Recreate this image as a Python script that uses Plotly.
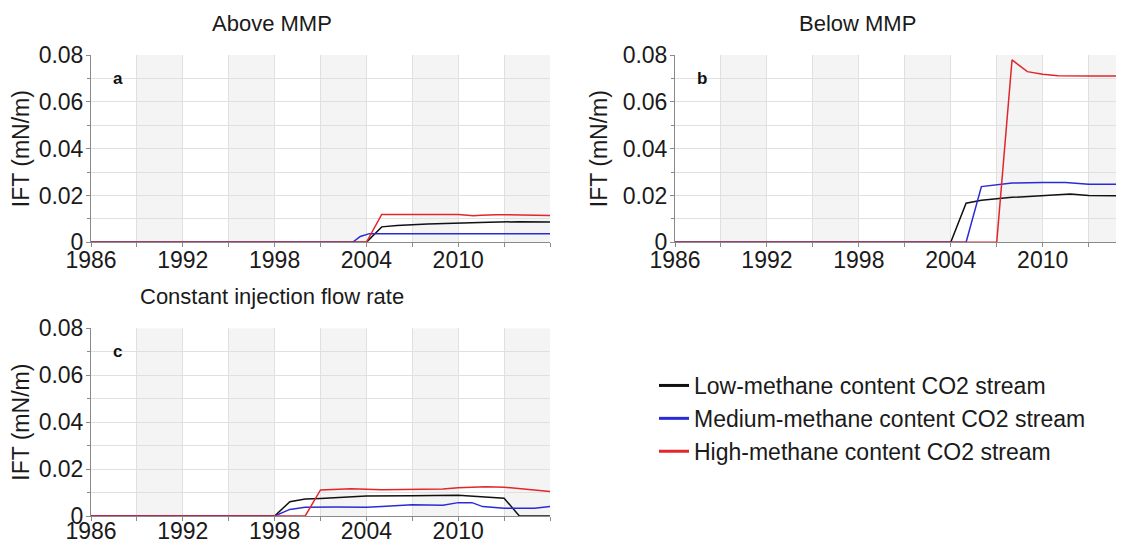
import plotly.graph_objects as go

# page has an 8px body margin, so the figure is sized to fit the window exactly
OFF = 8
W, H = 1124 - OFF, 543 - OFF

# ---------------- data ----------------
a_low_x = [1986, 2004.0, 2005.0, 2006, 2008, 2010, 2012, 2014, 2016]
a_low_y = [0, 0, 0.0066, 0.0072, 0.0078, 0.0083, 0.0086, 0.0088, 0.0087]
a_med_x = [1986, 2003.1, 2003.6, 2004.2, 2007, 2010, 2011, 2013, 2014, 2016]
a_med_y = [0, 0, 0.0025, 0.0037, 0.0037, 0.0037, 0.0038, 0.0040, 0.0037, 0.0036]
a_high_x = [1986, 2004.0, 2005.0, 2008, 2010, 2011, 2011.5, 2012.5, 2014, 2016]
a_high_y = [0, 0, 0.0119, 0.0119, 0.0119, 0.0113, 0.0116, 0.0118, 0.0118, 0.0115]

b_low_x = [1986, 2004.0, 2005.0, 2006, 2008, 2010, 2011.8, 2013, 2015.4]
b_low_y = [0, 0, 0.0167, 0.0180, 0.0192, 0.0200, 0.0206, 0.0200, 0.0199]
b_med_x = [1986, 2005.0, 2006.0, 2007, 2008, 2010, 2011.5, 2013, 2015.4]
b_med_y = [0, 0, 0.0238, 0.0245, 0.0253, 0.0255, 0.0255, 0.0248, 0.0248]
b_high_x = [1986, 2007.0, 2008.0, 2009, 2010, 2011, 2013, 2015.4]
b_high_y = [0, 0, 0.0779, 0.0729, 0.0718, 0.0711, 0.0710, 0.0710]

c_low_x = [1986, 1998, 1999, 2000, 2001, 2004, 2007, 2010, 2011, 2013, 2014, 2016]
c_low_y = [0, 0, 0.0061, 0.0072, 0.0075, 0.0085, 0.0086, 0.0088, 0.0084, 0.0076, 0, 0]
c_med_x = [1986, 1998, 1999, 2000, 2002, 2004, 2005, 2007, 2009, 2010, 2010.9, 2011.6, 2013, 2015, 2016]
c_med_y = [0, 0, 0.0028, 0.0037, 0.0038, 0.0037, 0.0040, 0.0048, 0.0046, 0.0057, 0.0057, 0.0040, 0.0033, 0.0033, 0.0040]
c_high_x = [1986, 2000, 2001, 2002, 2003, 2005, 2007, 2009, 2010, 2011.8, 2013, 2014, 2015, 2016]
c_high_y = [0, 0, 0.0111, 0.0114, 0.0116, 0.0112, 0.0112, 0.0115, 0.0120, 0.0125, 0.0123, 0.0116, 0.0110, 0.0104]

series_names = ["Low-methane content CO2 stream",
                "Medium-methane content CO2 stream",
                "High-methane content CO2 stream"]
series_colors = ["#111111", "#2b2bd6", "#e2262c"]

panel_titles = ["Above MMP", "Below MMP", "Constant injection flow rate"]
panel_letters = ["a", "b", "c"]

x_tickvals = [1986, 1992, 1998, 2004, 2010]
x_ticktext = ["1986", "1992", "1998", "2004", "2010"]
y_tickvals = [0, 0.02, 0.04, 0.06, 0.08]
y_ticktext = ["0", "0.02", "0.04", "0.06", "0.08"]
band_starts = [1989, 1995, 2001, 2007, 2013]

panels = [
    [(a_low_x, a_low_y), (a_med_x, a_med_y), (a_high_x, a_high_y)],
    [(b_low_x, b_low_y), (b_med_x, b_med_y), (b_high_x, b_high_y)],
    [(c_low_x, c_low_y), (c_med_x, c_med_y), (c_high_x, c_high_y)],
]

# ---------------- layout geometry (reference-page pixels) ----------------
px = lambda v: (v - OFF) / W
py = lambda v: 1 - (v - OFF) / H
geo = [
    dict(x0=91, x1=550, y0=55, y1=242.3, xr=[1986, 2016], xstand=-7),
    dict(x0=675, x1=1124, y0=55, y1=242.3, xr=[1986, 1986 + (1124 - 675) / 15.32], xstand=-7),
    dict(x0=91, x1=550, y0=328.4, y1=516, xr=[1986, 2016], xstand=-10),
]

FONT = "Arial, Liberation Sans, sans-serif"
fig = go.Figure()

for i, panel in enumerate(panels):
    sfx = "" if i == 0 else str(i + 1)
    for j, (xs, ys) in enumerate(panel):
        fig.add_trace(go.Scatter(x=xs, y=ys, mode="lines",
                                 line=dict(color=series_colors[j], width=1.5),
                                 showlegend=False, hoverinfo="skip",
                                 xaxis="x" + sfx, yaxis="y" + sfx))

# legend-only entries with thicker line samples
for j in range(3):
    fig.add_trace(go.Scatter(x=[None], y=[None], mode="lines", name=series_names[j],
                             line=dict(color=series_colors[j], width=3),
                             xaxis="x", yaxis="y"))

axis_common = dict(showline=True, linecolor="#8a8a8a", linewidth=1,
                   gridcolor="#e0e0e0", gridwidth=1, zeroline=False,
                   ticks="outside", ticklen=4, tickcolor="#8a8a8a",
                   tickfont=dict(family=FONT, size=23, color="#1a1a1a"),
                   automargin=False, fixedrange=True)

layout = dict(width=W, height=H, margin=dict(l=0, r=0, t=0, b=0),
              paper_bgcolor="white", plot_bgcolor="white",
              font=dict(family=FONT, color="#1a1a1a"),
              showlegend=True,
              legend=dict(x=px(654), y=py(364), xanchor="left", yanchor="top",
                          font=dict(family=FONT, size=23, color="#1a1a1a"),
                          bgcolor="rgba(0,0,0,0)", itemwidth=30,
                          tracegroupgap=0),
              shapes=[], annotations=[])

for i, g in enumerate(geo):
    sfx = "" if i == 0 else str(i + 1)
    layout["xaxis" + sfx] = dict(axis_common, domain=[px(g["x0"]), min(1, px(g["x1"]))],
                                 range=g["xr"], tickvals=x_tickvals, ticktext=x_ticktext,
                                 anchor="y" + sfx, showgrid=True, ticklabelstandoff=g["xstand"],
                                 minor=dict(dtick=3, tick0=1986, showgrid=True,
                                            gridcolor="#e0e0e0", ticks="outside",
                                            ticklen=4, tickcolor="#8a8a8a"))
    layout["yaxis" + sfx] = dict(axis_common, domain=[py(g["y1"]), py(g["y0"])],
                                 range=[0, 0.08], tickvals=y_tickvals, ticktext=y_ticktext,
                                 anchor="x" + sfx, showgrid=True, ticklabelstandoff=-2,
                                 title=dict(text="IFT (mN/m)", standoff=8,
                                            font=dict(family=FONT, size=23, color="#1a1a1a")),
                                 minor=dict(dtick=0.01, showgrid=True, gridcolor="#e0e0e0",
                                            ticks="outside", ticklen=3, tickcolor="#8a8a8a"))
    for b in band_starts:
        layout["shapes"].append(dict(type="rect", xref="x" + sfx, yref="y" + sfx + " domain",
                                     x0=b, x1=b + 3, y0=0, y1=1, layer="below",
                                     fillcolor="#f4f4f4", line=dict(width=0)))
    layout["annotations"].append(dict(text="<b>%s</b>" % panel_letters[i],
                                      xref="x" + sfx, yref="y" + sfx,
                                      x=1987.3, y=0.07, xanchor="left", yanchor="middle",
                                      showarrow=False,
                                      font=dict(family=FONT, size=17, color="#111")))

title_pos = [(272, 23), (857, 23), (272, 296)]
for t, (tx, ty) in zip(panel_titles, title_pos):
    layout["annotations"].append(dict(text=t, xref="paper", yref="paper", x=px(tx), y=py(ty),
                                      xanchor="center", yanchor="middle", showarrow=False,
                                      font=dict(family=FONT, size=22, color="#1a1a1a")))

fig.update_layout(layout)
fig.write_html("out.html")
